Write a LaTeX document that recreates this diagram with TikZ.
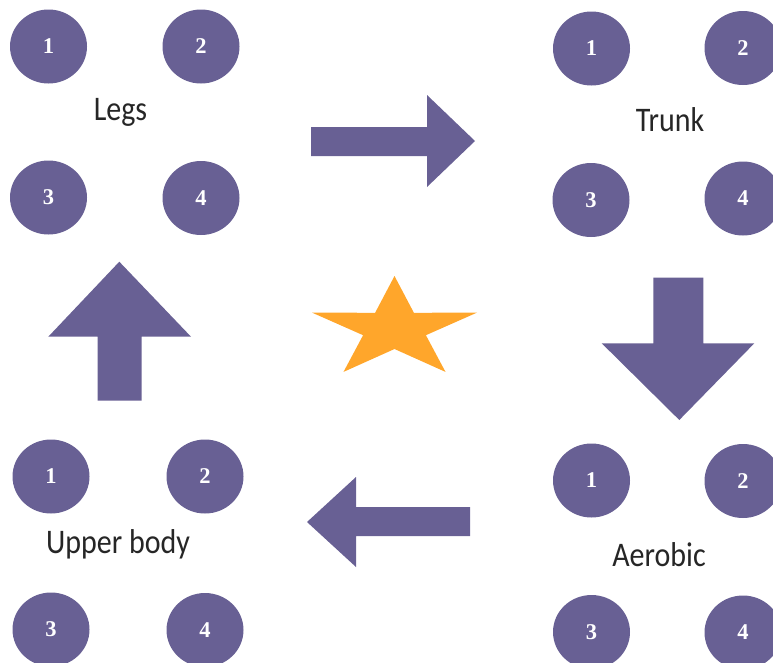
\documentclass[tikz,border=0pt]{standalone}
\usepackage{fontspec}
\setmainfont{Carlito}
\newfontfamily\numfont{Liberation Serif}
\usetikzlibrary{shapes.geometric}
\definecolor{plum}{RGB}{104,96,148}
\definecolor{amber}{RGB}{255,166,43}
\tikzset{
  dot/.style={ellipse, fill=plum, draw=none, minimum width=77pt, minimum height=74pt,
    inner sep=0pt, text=white, font=\numfont\bfseries\fontsize{22.5}{22.5}\selectfont},
  grouplabel/.style={inner sep=0pt, text=black!85, yscale=1.15, transform shape,
    font=\fontsize{30}{30}\selectfont},
  blockarrow/.style={fill=plum, draw=none},
  starshape/.style={fill=amber, draw=none}
}
\begin{document}
\begin{tikzpicture}[x=1pt, y=-1pt]
  \useasboundingbox (0,0) rectangle (773,662);

  % Legs
  \node[dot] (l1) at (48.5,46.5) {1};
  \node[dot] (l2) at (201,46.5) {2};
  \node[dot] (l3) at (48.5,197.5) {3};
  \node[dot] (l4) at (201,198) {4};
  \node[grouplabel] (legs) at (120.5,112) {Legs};

  % Trunk
  \node[dot] (t1) at (591.5,48.5) {1};
  \node[dot] (t2) at (743,48) {2};
  \node[dot] (t3) at (591,200) {3};
  \node[dot] (t4) at (743,198.5) {4};
  \node[grouplabel] (trunk) at (670,120) {Trunk};

  % Upper body
  \node[dot] (u1) at (51,476.5) {1};
  \node[dot] (u2) at (205,476.5) {2};
  \node[dot] (u3) at (51,629.5) {3};
  \node[dot] (u4) at (205,630) {4};
  \node[grouplabel] (upper) at (118,544) {Upper body};

  % Aerobic
  \node[dot] (a1) at (591.5,480.5) {1};
  \node[dot] (a2) at (743,481) {2};
  \node[dot] (a3) at (591.5,632) {3};
  \node[dot] (a4) at (743,632.5) {4};
  \node[grouplabel] (aerobic) at (659,555) {Aerobic};

  % block arrows of the cycle
  \fill[blockarrow] (311,127) -- (427,127) -- (427,95) -- (475,141)
    -- (427,187) -- (427,156) -- (311,156) -- cycle;
  \fill[blockarrow] (653.3,277.7) -- (703.3,277.7) -- (703.3,343.3) -- (754.3,343.3)
    -- (679.3,420) -- (601.7,343.3) -- (653.3,343.3) -- cycle;
  \fill[blockarrow] (470,507) -- (356,507) -- (356,477) -- (307,522)
    -- (356,567) -- (356,536) -- (470,536) -- cycle;
  \fill[blockarrow] (97.7,400.7) -- (97.7,336.7) -- (48.3,336.7) -- (119.3,261.7)
    -- (191,336.7) -- (141.7,336.7) -- (141.7,400.7) -- cycle;

  % star in the middle
  \fill[starshape] (394.5,276) -- (413.9,312.8) -- (477.0,312.6) -- (425.9,335.2)
    -- (445.5,371.9) -- (394.5,349) -- (343.5,371.9) -- (363.1,335.2)
    -- (312.0,312.6) -- (375.1,312.8) -- cycle;
\end{tikzpicture}
\end{document}
